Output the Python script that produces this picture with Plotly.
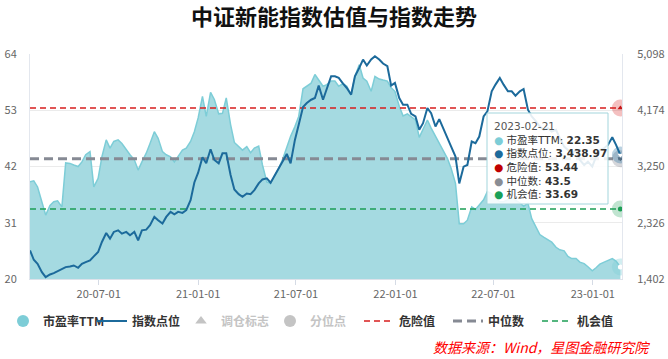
import plotly.graph_objects as go
import pandas as pd

# ---------------- data ----------------
pe_ttm = [
    39.0, 39.2, 38.0, 34.8, 32.5, 34.4, 35.1, 35.3, 34.1, 42.7,
    42.6, 42.3, 42.0, 42.9, 44.3, 44.9, 38.0, 39.7, 43.9, 47.2,
    45.6, 46.9, 47.2, 46.5, 45.2, 44.3, 43.3, 41.3, 42.9, 44.6,
    46.5, 48.8, 47.5, 44.9, 44.3, 43.9, 42.9, 43.9, 45.2, 45.6,
    46.9, 48.8, 51.5, 55.7, 51.8, 56.5, 55.1, 52.3, 52.4, 55.4,
    50.2, 46.7, 45.9, 45.2, 45.9, 44.7, 45.6, 46.0, 42.3, 39.0,
    38.7, 40.3, 41.6, 43.6, 45.9, 47.9, 49.8, 51.8, 57.2, 57.7,
    58.3, 60.0, 59.0, 57.7, 58.0, 58.7, 58.7, 57.7, 58.2, 57.7,
    56.0, 59.6, 61.9, 59.3, 58.7, 56.7, 59.6, 59.1, 58.9, 58.7,
    57.4, 56.7, 53.8, 51.9, 52.3, 51.8, 51.1, 47.7, 49.2, 51.1,
    49.5, 47.9, 46.7, 44.9, 43.6, 41.6, 38.7, 30.8, 30.8, 31.5,
    34.1, 33.6, 34.4, 35.5, 37.1, 36.7, 35.7, 35.1, 35.1, 35.5,
    35.9, 35.4, 34.9, 34.2, 34.8, 31.8, 30.2, 28.7, 28.2, 27.6,
    27.2, 26.2, 25.7, 25.5, 24.4, 24.0, 24.0, 23.3, 23.0, 22.4,
    21.6, 22.2, 22.9, 23.3, 23.7, 24.0, 23.5, 22.35,
]
index_points = [
    1872, 1718, 1652, 1515, 1432, 1476, 1498, 1531, 1570, 1597,
    1608, 1624, 1586, 1652, 1680, 1707, 1773, 1845, 2010, 2158,
    2065, 2175, 2202, 2147, 2175, 2120, 2175, 2037, 2202, 2213,
    2285, 2422, 2367, 2312, 2422, 2505, 2466, 2505, 2488, 2532,
    2697, 2988, 3148, 3401, 3302, 3533, 3357, 3302, 3467, 3467,
    3110, 2873, 2796, 2752, 2807, 2796, 2862, 2972, 3038, 3055,
    2983, 3110, 3220, 3357, 3456, 3302, 3687, 3935, 4226, 4292,
    4347, 4375, 4578, 4347, 4512, 4732, 4732, 4705, 4611, 4540,
    4430, 4732, 4870, 5007, 4908, 5007, 5062, 5007, 4941, 4897,
    4578, 4622, 4375, 4265, 4265, 4116, 4072, 3852, 3962, 4210,
    4127, 3907, 4028, 3852, 3715, 3577, 3412, 2972, 3247, 3275,
    3660, 3632, 3742, 4072, 4155, 4485, 4595, 4705, 4595, 4485,
    4485, 4413, 4485, 4523, 4182, 4072, 3990, 3907, 3852, 3880,
    3825, 3852, 3715, 3577, 3522, 3467, 3522, 3357, 3275, 3330,
    3247, 3412, 3522, 3550, 3605, 3731, 3605, 3438.97,
]
danger_value = 53.44
median_value = 43.5
chance_value = 33.69
start_date = "2020-02-25"
end_date = "2023-02-21"
left_ticks = [20, 31, 42, 53, 64]
right_ticks = [1402, 2326, 3250, 4174, 5098]

series_names = ["市盈率TTM", "指数点位", "调仓标志", "分位点", "危险值", "中位数", "机会值"]

# ---------------- styling ----------------
FONT = "Noto Sans CJK SC, Noto Sans, sans-serif"
TIP_FONT = "DejaVu Sans, Noto Sans CJK SC, sans-serif"
PE_LINE = "#7dcdd7"
PE_FILL = "#a5dae1"
IDX_COLOR = "#1c6a9b"
RED = "#d81e1e"
GREY = "#868a94"
GREEN = "#1d9e55"
DISABLED = "#c4c4c4"

dates = pd.date_range(start_date, end_date, periods=len(pe_ttm)).normalize()
n = len(dates)

fig = go.Figure()

# PE area
fig.add_trace(go.Scatter(
    x=dates, y=pe_ttm, mode="lines", fill="tozeroy",
    line=dict(color=PE_LINE, width=1.5), fillcolor=PE_FILL,
    showlegend=False, hoverinfo="skip", yaxis="y"))

# reference levels
for name, val, col, w, dash, rank in [
    (series_names[4], danger_value, RED, 1.6, "6px,4px", 5),
    (series_names[5], median_value, GREY, 3, "9px,5px", 6),
    (series_names[6], chance_value, GREEN, 1.6, "6px,4px", 7),
]:
    fig.add_trace(go.Scatter(
        x=dates, y=[val] * n, mode="lines",
        line=dict(color=col, width=w, dash=dash),
        name=f"<b>{name}</b>", legendrank=rank, hoverinfo="skip", yaxis="y"))

# index line
fig.add_trace(go.Scatter(
    x=dates, y=index_points, mode="lines",
    line=dict(color=IDX_COLOR, width=2),
    name=f"<b>{series_names[1]}</b>", legendrank=2, hoverinfo="skip", yaxis="y2"))

# legend-only entries
fig.add_trace(go.Scatter(
    x=[None], y=[None], mode="markers",
    marker=dict(symbol="circle", size=12, color=PE_LINE),
    name=f"<b>{series_names[0]}</b>", legendrank=1))
fig.add_trace(go.Scatter(
    x=[None], y=[None], mode="markers",
    marker=dict(symbol="triangle-up", size=10, color=DISABLED),
    name=f"<span style='color:{DISABLED}'><b>{series_names[2]}</b></span>", legendrank=3))
fig.add_trace(go.Scatter(
    x=[None], y=[None], mode="markers",
    marker=dict(symbol="circle", size=12, color=DISABLED),
    name=f"<span style='color:{DISABLED}'><b>{series_names[3]}</b></span>", legendrank=4))

# end-point markers
last = dates[-1]
for val, halo, inner, sym, ax in [
    (danger_value, "rgba(216,30,30,0.28)", "#c41414", "triangle-up", "y"),
    (median_value, "rgba(134,138,148,0.35)", "#6a6e78", "triangle-down", "y"),
    (index_points[-1], "rgba(28,106,155,0.30)", "#ffffff", "triangle-down", "y2"),
    (chance_value, "rgba(29,158,85,0.28)", GREEN, "circle", "y"),
    (pe_ttm[-1], "rgba(125,205,215,0.35)", "#ffffff", "circle", "y"),
]:
    fig.add_trace(go.Scatter(x=[last], y=[val], mode="markers", yaxis=ax,
                             marker=dict(size=17, color=halo), showlegend=False, hoverinfo="skip"))
    fig.add_trace(go.Scatter(x=[last], y=[val], mode="markers", yaxis=ax,
                             marker=dict(size=5, color=inner, symbol=sym), showlegend=False, hoverinfo="skip"))

# ---------------- layout ----------------
L, R, T, B = 30, 46, 54, 80
W, H = 668, 359
PW, PH = W - L - R, H - T - B


def px(xp):
    return (xp - L) / PW


def py(yp):
    return (H - B - yp) / PH


fig.update_layout(
    width=W, height=H, margin=dict(l=L, r=R, t=T, b=B, autoexpand=False),
    paper_bgcolor="white", plot_bgcolor="white",
    font=dict(family=FONT, size=11, color="#666"),
    title=dict(text="<b>中证新能指数估值与指数走势</b>", x=0.5, xanchor="center",
               y=1 - 17.5 / H, yanchor="middle", font=dict(size=22, color="#111")),
    xaxis=dict(type="date", range=["2020-02-25", "2023-02-24"], tickformat="%y-%m-%d",
               dtick="M6", tick0="2020-01-01", ticks="outside", ticklen=5,
               tickcolor="#d5dbe5", showline=True, linecolor="#dde2ea", showgrid=False,
               zeroline=False, tickfont=dict(size=11, color="#666")),
    yaxis=dict(range=[20, 64], tickvals=left_ticks, showgrid=True, gridcolor="#ebebeb",
               showline=True, linecolor="#e3e7ee", ticks="", ticklabelstandoff=10,
               zeroline=False, tickfont=dict(size=11, color="#666")),
    yaxis2=dict(overlaying="y", side="right", range=[1402, 5098], tickvals=right_ticks,
                ticktext=[f"{v:,}" for v in right_ticks], showgrid=False, showline=True,
                linecolor="#e3e7ee", ticks="", ticklabelstandoff=12,
                zeroline=False, tickfont=dict(size=11, color="#666")),
    legend=dict(orientation="h", x=px(3), xanchor="left", y=py(321), yanchor="middle",
                entrywidth=44, entrywidthmode="pixels", font=dict(size=12, color="#333"),
                bgcolor="rgba(0,0,0,0)", itemclick=False, itemdoubleclick=False),
    hovermode=False,
)

# tooltip box
fig.add_shape(type="rect", xref="paper", yref="paper",
              x0=px(487), x1=px(608), y0=py(204), y1=py(113),
              fillcolor="rgba(255,255,255,0.88)", line=dict(color="#a3d5dc", width=1),
              layer="above")
rows = [
    (PE_LINE, series_names[0], f"{pe_ttm[-1]}"),
    (IDX_COLOR, series_names[1], f"{index_points[-1]:,.2f}"),
    ("#c00000", series_names[4], f"{danger_value}"),
    ("#8a8d94", series_names[5], f"{median_value}"),
    ("#18a058", series_names[6], f"{chance_value}"),
]
tip_lines = [f"<span style='color:#555'>{last.strftime('%Y-%m-%d')}</span>"]
for col, lab, val in rows:
    tip_lines.append(f"<span style='color:{col}'>●</span> {lab}: <b>{val}</b>")
fig.add_annotation(xref="paper", yref="paper", x=px(492), y=py(118), xanchor="left",
                   yanchor="top", align="left", showarrow=False,
                   text="<br>".join(tip_lines), font=dict(family=TIP_FONT, size=10.5, color="#333"))

# source note
fig.add_annotation(xref="paper", yref="paper", x=px(652), y=py(347), xanchor="right",
                   yanchor="middle", showarrow=False,
                   text="<i>数据来源：Wind，星图金融研究院</i>",
                   font=dict(size=14, color="#ff0000"))

fig.write_html("out.html", config={"displayModeBar": False},
               post_script="document.body.style.margin='0';document.body.style.padding='0';")
